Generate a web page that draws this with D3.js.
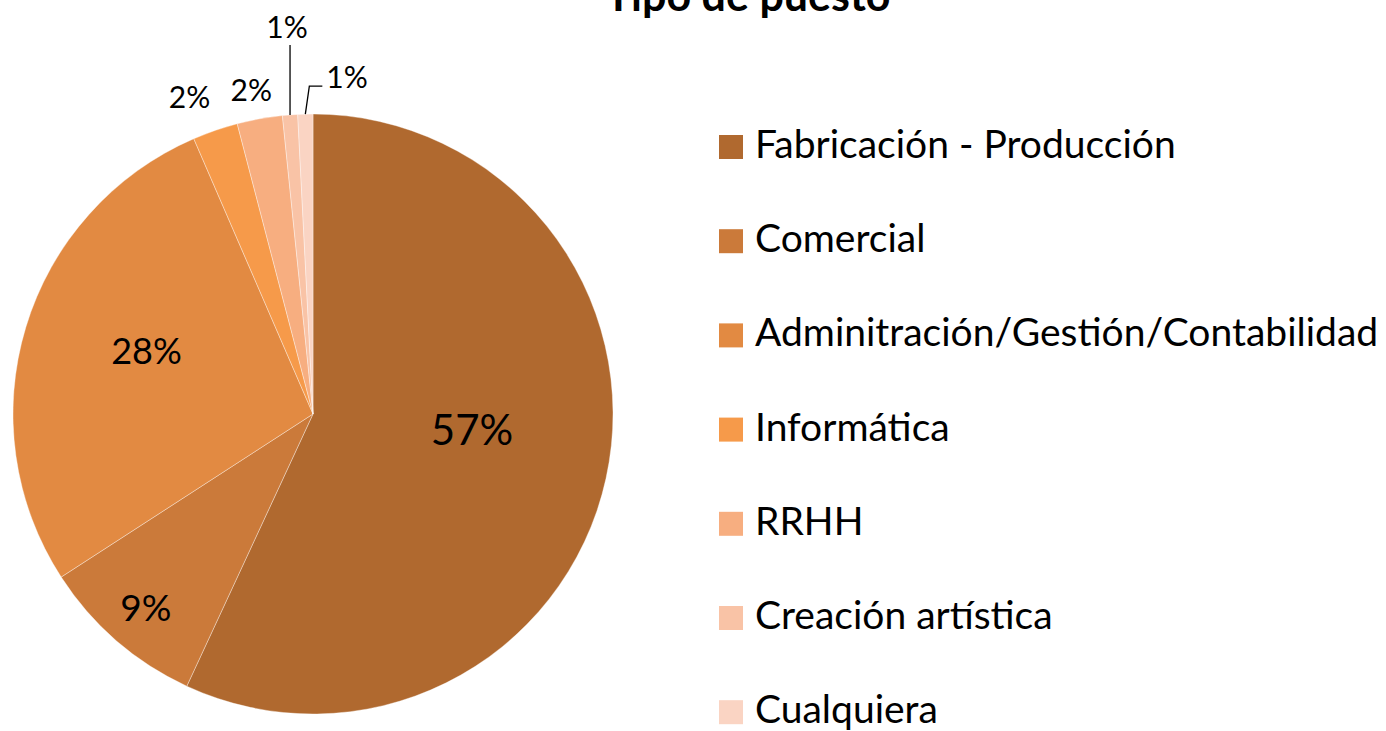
<!DOCTYPE html>
<html>
<head>
<meta charset="utf-8">
<script src="https://cdnjs.cloudflare.com/ajax/libs/d3/7.8.5/d3.min.js"></script>
<style>
  body { margin: 0; background: #fff; }
  text { font-family: Lato, "Open Sans", sans-serif; fill: #000; }
</style>
</head>
<body>
<div class="chart"></div>
<script>
// chart data
var title = "Tipo de puesto";
var categories = ["Fabricación - Producción", "Comercial", "Adminitración/Gestión/Contabilidad",
                  "Informática", "RRHH", "Creación artística", "Cualquiera"];
var counts = [70, 11, 34, 3, 3, 1, 1];
var labels = ["57%", "9%", "28%", "2%", "2%", "1%", "1%"];
var colors = ["#B0692F", "#CB7A3A", "#E28A42", "#F69A4A", "#F7AE80", "#F9C3A6", "#FAD4C3"];

var width = 1386, height = 731;
var cx = 313, cy = 414, r = 300;

var svg = d3.select(".chart")
  .append("svg")
    .attr("width", width)
    .attr("height", height);

var pie = d3.pie().sort(null).value(function(d) { return d; });
var arcs = pie(counts);

var arc = d3.arc().innerRadius(0).outerRadius(r);
var edge = d3.arc().innerRadius(r).outerRadius(r);

var g = svg.append("g").attr("transform", "translate(" + cx + "," + cy + ")");

// slices
g.selectAll("path")
  .data(arcs)
  .enter().append("path")
    .attr("d", arc)
    .attr("fill", function(d, i) { return colors[i]; })
    .attr("stroke", "#fff")
    .attr("stroke-opacity", 0.45)
    .attr("stroke-width", 0.8);

// inside labels (big slices): radius factor, font size, nudges
var inside = {
  0: {k: 0.56, fs: 42, dx: -5, dy: -21},
  1: {k: 0.85, fs: 37, dx: 0, dy: 0},
  2: {k: 0.58, fs: 36, dx: 0, dy: -14}
};
// outside labels for the small slices
var outside = {3: {k: 1.12, dx: -14, dy: 0}, 4: {k: 1.1, dx: -3, dy: 0}};

arcs.forEach(function(d, i) {
  var mid = (d.startAngle + d.endAngle) / 2;
  if (inside[i]) {
    var o = inside[i];
    g.append("text")
      .attr("x", Math.sin(mid) * r * o.k + o.dx)
      .attr("y", -Math.cos(mid) * r * o.k + o.dy)
      .attr("text-anchor", "middle")
      .attr("dominant-baseline", "central")
      .style("font-size", o.fs + "px")
      .text(labels[i]);
  } else if (outside[i]) {
    var p = outside[i];
    g.append("text")
      .attr("x", Math.sin(mid) * r * p.k + p.dx)
      .attr("y", -Math.cos(mid) * r * p.k + p.dy)
      .attr("text-anchor", "middle")
      .attr("dominant-baseline", "central")
      .style("font-size", "30px")
      .text(labels[i]);
  }
});

// callout labels with leader lines for the two 1% slices
var e5 = edge.centroid(arcs[5]);
g.append("path")
  .attr("d", d3.line()([[e5[0], e5[1]], [e5[0], e5[1] - 70]]))
  .attr("stroke", "#000").attr("stroke-width", 1.3).attr("fill", "none");
g.append("text")
  .attr("x", e5[0] - 3)
  .attr("y", e5[1] - 77)
  .attr("text-anchor", "middle")
  .style("font-size", "30px")
  .text(labels[5]);

var e6 = edge.centroid(arcs[6]);
g.append("path")
  .attr("d", d3.line()([[e6[0], e6[1]], [e6[0] + 4, e6[1] - 28], [e6[0] + 17, e6[1] - 28]]))
  .attr("stroke", "#000").attr("stroke-width", 1.3).attr("fill", "none");
g.append("text")
  .attr("x", e6[0] + 21)
  .attr("y", e6[1] - 26)
  .attr("text-anchor", "start")
  .style("font-size", "30px")
  .text(labels[6]);

// title (cut off at the top, as in the original)
svg.append("text")
  .attr("x", 748)
  .attr("y", 11)
  .attr("text-anchor", "middle")
  .style("font-size", "43px")
  .style("font-weight", "bold")
  .text(title);

// legend
var legend = svg.append("g").attr("transform", "translate(719,135)");
var rows = legend.selectAll("g")
  .data(categories)
  .enter().append("g")
    .attr("transform", function(d, i) { return "translate(0," + (i * 94.2) + ")"; });

rows.append("rect")
  .attr("width", 24)
  .attr("height", 24)
  .attr("fill", function(d, i) { return colors[i]; });

rows.append("text")
  .attr("x", 36)
  .attr("y", 23)
  .style("font-size", "39px")
  .text(function(d) { return d; });
</script>
</body>
</html>
